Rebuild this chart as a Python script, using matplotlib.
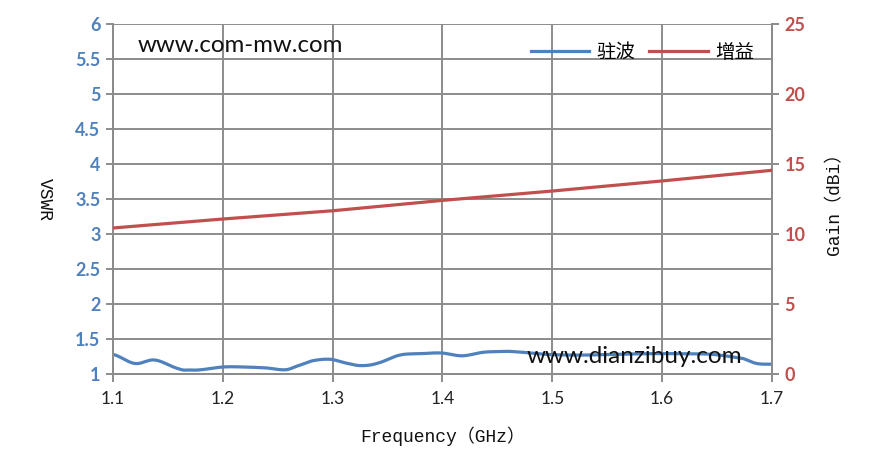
import matplotlib
matplotlib.use("Agg")
import matplotlib.pyplot as plt
import numpy as np

# frequency axis (GHz)
freq_vswr = [1.100, 1.120, 1.138, 1.161, 1.170, 1.179, 1.200, 1.219, 1.240, 1.257,
             1.267, 1.282, 1.298, 1.311, 1.325, 1.340, 1.361, 1.380, 1.399, 1.418,
             1.437, 1.452, 1.464, 1.495, 1.525, 1.555, 1.586, 1.616, 1.646, 1.674,
             1.686, 1.700]
vswr = [1.28, 1.15, 1.20, 1.07, 1.057, 1.06, 1.10, 1.10, 1.086, 1.06,
        1.11, 1.19, 1.21, 1.16, 1.12, 1.15, 1.27, 1.29, 1.30, 1.26,
        1.31, 1.32, 1.32, 1.28, 1.27, 1.28, 1.29, 1.29, 1.28, 1.22,
        1.15, 1.14]

freq_gain = [1.1, 1.2, 1.3, 1.4, 1.5, 1.6, 1.7]
gain = [10.43, 11.07, 11.66, 12.40, 13.07, 13.79, 14.55]

blue = "#4F81BD"
red = "#C0504D"
grid_c = "#8C8C8C"

label_font = ["Liberation Mono", "Noto Sans CJK SC"]
tick_font = "Lato"

fig = plt.figure(figsize=(8.79, 4.69), dpi=100)
ax1 = fig.add_axes([113/879, 1-374/469, (772-113)/879, (374-24)/469])
ax2 = ax1.twinx()

# smooth the vswr curve a little like the spreadsheet does
fx = np.array(freq_vswr)
fy = np.array(vswr)
xs = np.linspace(fx[0], fx[-1], 600)
# Catmull-Rom style smoothing through the read points
def smooth(x, y, xs):
    out = np.empty_like(xs)
    for k, xv in enumerate(xs):
        i = np.searchsorted(x, xv) - 1
        i = min(max(i, 0), len(x) - 2)
        x0, x1 = x[i], x[i+1]
        p0 = y[i-1] if i > 0 else y[i]
        p1, p2 = y[i], y[i+1]
        p3 = y[i+2] if i + 2 < len(y) else y[i+1]
        t = (xv - x0) / (x1 - x0)
        out[k] = 0.5 * ((2*p1) + (-p0 + p2)*t + (2*p0 - 5*p1 + 4*p2 - p3)*t**2
                        + (-p0 + 3*p1 - 3*p2 + p3)*t**3)
    return out

l1, = ax1.plot(xs, smooth(fx, fy, xs), color=blue, lw=2.3, label="驻波", zorder=3)
l2, = ax2.plot(freq_gain, gain, color=red, lw=2.3, label="增益", zorder=3)

ax1.set_xlim(1.1, 1.7)
ax1.set_ylim(1, 6)
ax2.set_ylim(0, 25)
ax1.set_xticks(np.arange(1.1, 1.71, 0.1))
ax1.set_xticklabels([f"{v:.1f}" for v in np.arange(1.1, 1.71, 0.1)])
ax1.set_yticks(np.arange(1, 6.01, 0.5))
ax1.set_yticklabels([f"{v:g}" for v in np.arange(1, 6.01, 0.5)])
ax2.set_yticks(np.arange(0, 26, 5))

ax1.grid(True, color=grid_c, lw=1.4)
ax1.set_axisbelow(True)

for ax in (ax1, ax2):
    for s in ax.spines.values():
        s.set_color(grid_c)
        s.set_linewidth(1.4)
    ax.spines["top"].set_visible(False)
ax2.spines["right"].set_visible(True)

ax1.tick_params(axis="x", colors=grid_c, labelcolor="#222222", length=6, width=1.4,
                labelsize=12.5, pad=6)
ax1.tick_params(axis="y", colors=grid_c, labelcolor=blue, length=5, width=1.4,
                labelsize=13, pad=4)
ax2.tick_params(axis="y", colors=grid_c, labelcolor=red, length=5, width=1.4,
                labelsize=13, pad=4)
for lab in ax1.get_xticklabels():
    lab.set_fontfamily(tick_font)
for lab in ax1.get_yticklabels():
    lab.set_fontfamily(tick_font)
    lab.set_fontweight("bold")
for lab in ax2.get_yticklabels():
    lab.set_fontfamily(tick_font)
    lab.set_fontweight("bold")

ax1.set_xlabel("Frequency（GHz）", family=label_font, fontsize=13, labelpad=14,
               color="#111111")
ax1.set_ylabel("VSWR", family=label_font, fontsize=13, rotation=270, labelpad=28,
               color="#111111")
ax2.set_ylabel("Gain（dBi）", family=label_font, fontsize=13, rotation=90, labelpad=15,
               color="#111111")

leg = ax1.legend(handles=[l1, l2], loc="upper right", frameon=False, ncol=2,
                 bbox_to_anchor=(1.0, 1.0), handlelength=3.0, handletextpad=0.4,
                 columnspacing=0.7,
                 prop={"family": "Noto Sans CJK SC", "size": 14})

ax1.text(0.037, 0.94, "www.com-mw.com", transform=ax1.transAxes, family=tick_font,
         fontsize=17.3, color="#111111", va="center", ha="left", zorder=5)
ax1.text(0.628, 0.05, "www.dianzibuy.com", transform=ax1.transAxes, family=tick_font,
         fontsize=17.5, color="#111111", va="center", ha="left", zorder=5)

fig.savefig("out.png", dpi=100)
